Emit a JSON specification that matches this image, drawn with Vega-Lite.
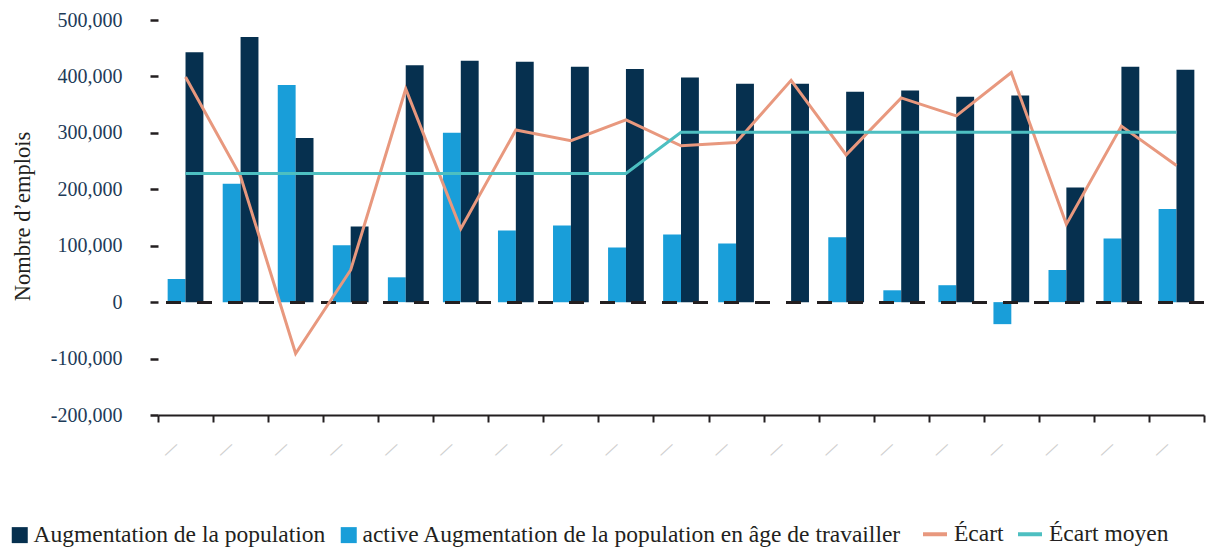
{
  "$schema": "https://vega.github.io/schema/vega-lite/v6.json",
  "width": 1046,
  "height": 395,
  "autosize": {"type": "none"},
  "padding": {"left": 158, "top": 20, "right": 3, "bottom": 133},
  "background": "white",
  "config": {
    "view": {"stroke": null},
    "font": "Liberation Serif"
  },
  "datasets": {
    "bars": [
      {"cat": "c01", "serie": "active Augmentation de la population en âge de travailler", "valeur": 41000},
      {"cat": "c01", "serie": "Augmentation de la population", "valeur": 443000},
      {"cat": "c02", "serie": "active Augmentation de la population en âge de travailler", "valeur": 210000},
      {"cat": "c02", "serie": "Augmentation de la population", "valeur": 470000},
      {"cat": "c03", "serie": "active Augmentation de la population en âge de travailler", "valeur": 385000},
      {"cat": "c03", "serie": "Augmentation de la population", "valeur": 291000},
      {"cat": "c04", "serie": "active Augmentation de la population en âge de travailler", "valeur": 101000},
      {"cat": "c04", "serie": "Augmentation de la population", "valeur": 134000},
      {"cat": "c05", "serie": "active Augmentation de la population en âge de travailler", "valeur": 44000},
      {"cat": "c05", "serie": "Augmentation de la population", "valeur": 420000},
      {"cat": "c06", "serie": "active Augmentation de la population en âge de travailler", "valeur": 300000},
      {"cat": "c06", "serie": "Augmentation de la population", "valeur": 428000},
      {"cat": "c07", "serie": "active Augmentation de la population en âge de travailler", "valeur": 127000},
      {"cat": "c07", "serie": "Augmentation de la population", "valeur": 426000},
      {"cat": "c08", "serie": "active Augmentation de la population en âge de travailler", "valeur": 136000},
      {"cat": "c08", "serie": "Augmentation de la population", "valeur": 417000},
      {"cat": "c09", "serie": "active Augmentation de la population en âge de travailler", "valeur": 97000},
      {"cat": "c09", "serie": "Augmentation de la population", "valeur": 413000},
      {"cat": "c10", "serie": "active Augmentation de la population en âge de travailler", "valeur": 120000},
      {"cat": "c10", "serie": "Augmentation de la population", "valeur": 398000},
      {"cat": "c11", "serie": "active Augmentation de la population en âge de travailler", "valeur": 104000},
      {"cat": "c11", "serie": "Augmentation de la population", "valeur": 387000},
      {"cat": "c12", "serie": "active Augmentation de la population en âge de travailler", "valeur": 0},
      {"cat": "c12", "serie": "Augmentation de la population", "valeur": 387000},
      {"cat": "c13", "serie": "active Augmentation de la population en âge de travailler", "valeur": 115000},
      {"cat": "c13", "serie": "Augmentation de la population", "valeur": 373000},
      {"cat": "c14", "serie": "active Augmentation de la population en âge de travailler", "valeur": 21000},
      {"cat": "c14", "serie": "Augmentation de la population", "valeur": 375000},
      {"cat": "c15", "serie": "active Augmentation de la population en âge de travailler", "valeur": 30000},
      {"cat": "c15", "serie": "Augmentation de la population", "valeur": 364000},
      {"cat": "c16", "serie": "active Augmentation de la population en âge de travailler", "valeur": -39000},
      {"cat": "c16", "serie": "Augmentation de la population", "valeur": 366000},
      {"cat": "c17", "serie": "active Augmentation de la population en âge de travailler", "valeur": 57000},
      {"cat": "c17", "serie": "Augmentation de la population", "valeur": 203000},
      {"cat": "c18", "serie": "active Augmentation de la population en âge de travailler", "valeur": 113000},
      {"cat": "c18", "serie": "Augmentation de la population", "valeur": 417000},
      {"cat": "c19", "serie": "active Augmentation de la population en âge de travailler", "valeur": 165000},
      {"cat": "c19", "serie": "Augmentation de la population", "valeur": 412000}
    ],
    "lignes": [
      {"cat": "c01", "serie": "Écart", "valeur": 399000},
      {"cat": "c02", "serie": "Écart", "valeur": 223000},
      {"cat": "c03", "serie": "Écart", "valeur": -91000},
      {"cat": "c04", "serie": "Écart", "valeur": 57000},
      {"cat": "c05", "serie": "Écart", "valeur": 378000},
      {"cat": "c06", "serie": "Écart", "valeur": 130000},
      {"cat": "c07", "serie": "Écart", "valeur": 305000},
      {"cat": "c08", "serie": "Écart", "valeur": 286000},
      {"cat": "c09", "serie": "Écart", "valeur": 323000},
      {"cat": "c10", "serie": "Écart", "valeur": 277000},
      {"cat": "c11", "serie": "Écart", "valeur": 283000},
      {"cat": "c12", "serie": "Écart", "valeur": 393000},
      {"cat": "c13", "serie": "Écart", "valeur": 261000},
      {"cat": "c14", "serie": "Écart", "valeur": 362000},
      {"cat": "c15", "serie": "Écart", "valeur": 330000},
      {"cat": "c16", "serie": "Écart", "valeur": 407000},
      {"cat": "c17", "serie": "Écart", "valeur": 138000},
      {"cat": "c18", "serie": "Écart", "valeur": 312000},
      {"cat": "c19", "serie": "Écart", "valeur": 242000},
      {"cat": "c01", "serie": "Écart moyen", "valeur": 228000},
      {"cat": "c02", "serie": "Écart moyen", "valeur": 228000},
      {"cat": "c03", "serie": "Écart moyen", "valeur": 228000},
      {"cat": "c04", "serie": "Écart moyen", "valeur": 228000},
      {"cat": "c05", "serie": "Écart moyen", "valeur": 228000},
      {"cat": "c06", "serie": "Écart moyen", "valeur": 228000},
      {"cat": "c07", "serie": "Écart moyen", "valeur": 228000},
      {"cat": "c08", "serie": "Écart moyen", "valeur": 228000},
      {"cat": "c09", "serie": "Écart moyen", "valeur": 228000},
      {"cat": "c10", "serie": "Écart moyen", "valeur": 301000},
      {"cat": "c11", "serie": "Écart moyen", "valeur": 301000},
      {"cat": "c12", "serie": "Écart moyen", "valeur": 301000},
      {"cat": "c13", "serie": "Écart moyen", "valeur": 301000},
      {"cat": "c14", "serie": "Écart moyen", "valeur": 301000},
      {"cat": "c15", "serie": "Écart moyen", "valeur": 301000},
      {"cat": "c16", "serie": "Écart moyen", "valeur": 301000},
      {"cat": "c17", "serie": "Écart moyen", "valeur": 301000},
      {"cat": "c18", "serie": "Écart moyen", "valeur": 301000},
      {"cat": "c19", "serie": "Écart moyen", "valeur": 301000}
    ]
  },
  "encoding": {
    "x": {
      "field": "cat",
      "type": "nominal",
      "sort": null,
      "scale": {"paddingInner": 0, "paddingOuter": 0},
      "axis": {
        "title": null,
        "domainColor": "#231f20",
        "domainWidth": 2,
        "tickColor": "#231f20",
        "tickWidth": 2,
        "tickSize": 7,
        "tickBand": "extent",
        "labelExpr": "datum.index < 0 ? '' : '—'",
        "labelAngle": -43,
        "labelAlign": "right",
        "labelBaseline": "middle",
        "labelOffset": -10,
        "labelPadding": 21,
        "labelFontSize": 16,
        "labelFontWeight": "bold",
        "labelColor": "#cfcfcf",
        "labelOverlap": false,
        "labelBound": false
      }
    },
    "y": {
      "field": "valeur",
      "type": "quantitative",
      "scale": {"domain": [-200000, 500000], "nice": false, "zero": false},
      "axis": {
        "title": "Nombre d’emplois",
        "titleFont": "Liberation Serif",
        "titleFontSize": 22.5,
        "titleFontWeight": "normal",
        "titleColor": "#231f20",
        "titleAngle": -90,
        "titleAlign": "center",
        "titleBaseline": "middle",
        "titleX": -136,
        "titleY": 196,
        "values": [-200000, -100000, 0, 100000, 200000, 300000, 400000, 500000],
        "labelExpr": "replace(format(datum.value, ','), '−', '-')",
        "labelFontSize": 20,
        "labelColor": "#1d3b58",
        "labelPadding": 28,
        "domain": false,
        "grid": false,
        "tickColor": "#231f20",
        "tickWidth": 2.5,
        "tickSize": 8
      }
    }
  },
  "layer": [
    {
      "data": {"name": "bars"},
      "mark": {"type": "bar", "strokeWidth": 0},
      "encoding": {
        "xOffset": {
          "field": "serie",
          "type": "nominal",
          "scale": {
            "domain": ["active Augmentation de la population en âge de travailler", "Augmentation de la population"],
            "paddingInner": 0,
            "paddingOuter": 0.54
          }
        },
        "fill": {
          "field": "serie",
          "type": "nominal",
          "scale": {
            "domain": ["Augmentation de la population", "active Augmentation de la population en âge de travailler"],
            "range": ["#06304f", "#199ed9"]
          },
          "legend": {
            "title": null,
            "orient": "none",
            "direction": "horizontal",
            "legendX": -150,
            "legendY": 503,
            "padding": 0,
            "symbolType": "square",
            "symbolSize": 256,
            "symbolStrokeWidth": 0,
            "labelFont": "Liberation Serif",
            "labelFontSize": 23.5,
            "labelColor": "#231f20",
            "labelOffset": 2,
            "labelLimit": 1000,
            "columnPadding": 11
          }
        }
      }
    },
    {
      "data": {"name": "bars"},
      "mark": {"type": "rule", "color": "#231f20", "strokeWidth": 2.5, "strokeDash": [15, 16]},
      "encoding": {
        "y": {"datum": 0, "type": "quantitative"},
        "x": null
      }
    },
    {
      "data": {"name": "lignes"},
      "mark": {"type": "line", "strokeWidth": 3, "strokeJoin": "miter"},
      "encoding": {
        "stroke": {
          "field": "serie",
          "type": "nominal",
          "scale": {
            "domain": ["Écart", "Écart moyen"],
            "range": ["#e8987e", "#4dbfc1"]
          },
          "legend": {
            "title": null,
            "orient": "none",
            "direction": "horizontal",
            "legendX": 763,
            "legendY": 500,
            "padding": 0,
            "symbolType": "stroke",
            "symbolSize": 576,
            "symbolStrokeWidth": 4,
            "labelFont": "Liberation Serif",
            "labelFontSize": 23.5,
            "labelColor": "#231f20",
            "labelOffset": 5,
            "labelLimit": 1000,
            "columnPadding": 6
          }
        }
      }
    }
  ]
}
